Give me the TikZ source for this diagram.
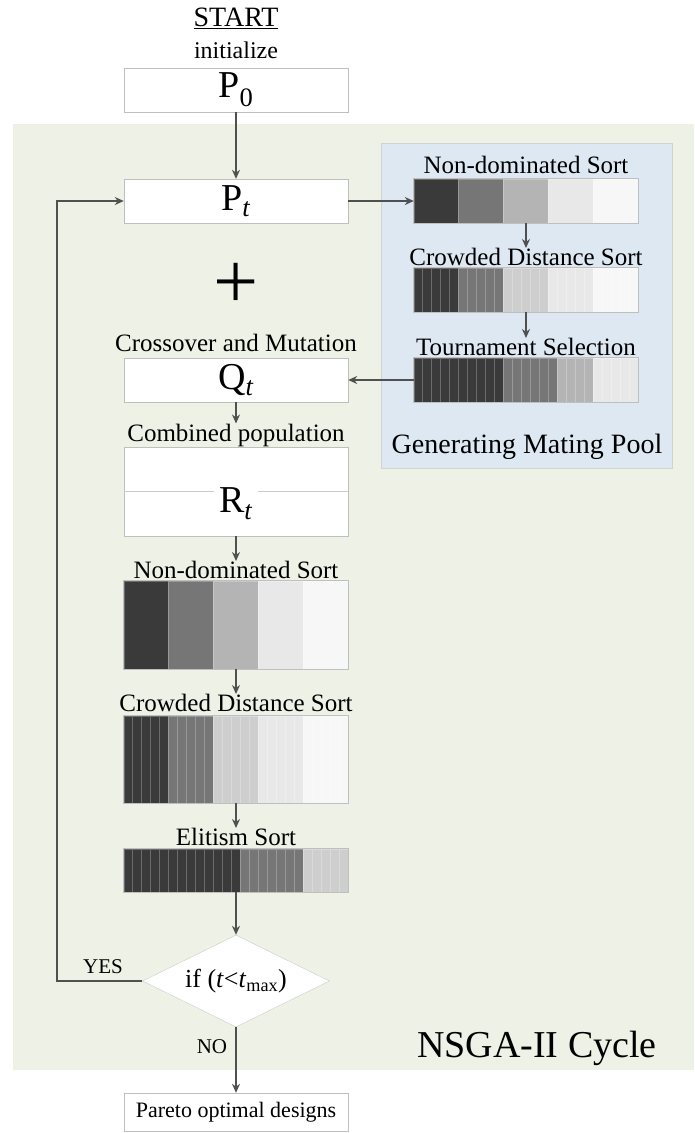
\documentclass[tikz,border=0pt]{standalone}
\usepackage{fontspec}
\setmainfont{Liberation Serif}
\usetikzlibrary{shapes.geometric, arrows.meta}

% Colours of the panels and of the fronts
\definecolor{cycleback}{RGB}{238,241,230}
\definecolor{poolback}{RGB}{222,232,242}
\definecolor{linkgray}{RGB}{80,80,80}
\definecolor{frontA}{RGB}{58,58,58}
\definecolor{frontB}{RGB}{118,118,118}
\definecolor{frontC}{RGB}{180,180,180}
\definecolor{frontCc}{RGB}{206,206,206}
\definecolor{frontD}{RGB}{232,232,232}
\definecolor{frontE}{RGB}{247,247,247}

\newcommand{\fsz}[1]{\fontsize{#1}{#1}\selectfont}

\tikzset{
  box/.style={draw=gray!50, fill=white, minimum width=224pt, minimum height=44pt, inner sep=0pt},
  bar/.style={minimum width=224pt, inner sep=0pt},
  title/.style={inner sep=0pt, font=\fsz{25}},
  link/.style={->, draw=linkgray, line width=1.6pt},
}

% Strip bar: \stripbar{node}{strip width}{colour/first/last,...}
\newcommand{\stripbar}[3]{%
  \foreach \col/\a/\b in {#3} {
    \foreach \i in {\a,...,\b}
      \filldraw[fill=\col, draw=\col!75!white, line width=0.6pt]
        ([xshift=\i*#2pt]#1.north west) rectangle ([xshift=(\i+1)*#2pt]#1.south west);
  }
  \draw[gray!50, line width=0.8pt] (#1.north west) rectangle (#1.south east);
}

\begin{document}
\begin{tikzpicture}[x=1pt, y=-1pt, >={Stealth[length=9pt, width=8pt]}]
    \useasboundingbox (0,0) rectangle (694,1133);

    % 1. Panels
    \fill[cycleback] (13,124) rectangle (694,1070);
    \filldraw[fill=poolback, draw=gray!35] (381,143) rectangle (672,468);

    % 2. Main column
    \node[font=\fsz{28}, inner sep=0pt] (start) at (236,18) {\underline{START}};
    \node[font=\fsz{24}, inner sep=0pt] (init) at (236,50) {initialize};
    \node[box, font=\fsz{38}] (p0) at (236,90) {P\textsubscript{0}};
    \node[box, font=\fsz{38}] (pt) at (236,201) {P\textsubscript{\textit{t}}};
    \node[font=\fsz{80}, inner sep=0pt] (plus) at (236,286) {+};

    \node[title] (crosslbl) at (236,343) {Crossover and Mutation};
    \node[box, font=\fsz{38}] (qt) at (236,380) {Q\textsubscript{\textit{t}}};

    \node[title] (comblbl) at (236,435) {Combined population};
    \node[box, minimum height=89pt] (rt) at (236,491.5) {};
    \draw[gray!40, line width=0.8pt] (rt.west) -- (rt.east);
    \node[font=\fsz{38}, fill=white, inner xsep=5pt, inner ysep=0pt] (rtname)
        at ([yshift=-12pt]rt.center) {R\textsubscript{\textit{t}}};

    \node[title] (ndslbl) at (236,570) {Non-dominated Sort};
    \node[bar, minimum height=88pt] (ndsbar) at (236,625) {};
    \stripbar{ndsbar}{44.8}{frontA/0/0, frontB/1/1, frontC/2/2, frontD/3/3, frontE/4/4}

    \node[title] (cdslbl) at (236,703) {Crowded Distance Sort};
    \node[bar, minimum height=87pt] (cdsbar) at (236,759.5) {};
    \stripbar{cdsbar}{8.96}{frontA/0/4, frontB/5/9, frontCc/10/14, frontD/15/19, frontE/20/24}

    \node[title] (elitelbl) at (236,837) {Elitism Sort};
    \node[bar, minimum height=43pt] (elitebar) at (236,870.5) {};
    \stripbar{elitebar}{8.96}{frontA/0/12, frontB/13/19, frontCc/20/24}

    \node[diamond, draw=gray!40, fill=white, aspect=2, minimum width=187pt,
        minimum height=92pt, inner sep=0pt, font=\fsz{26}] (cond) at (236,981)
        {if (\textit{t}<\textit{t}\textsubscript{max})};
    \node[box, minimum height=38pt, font=\fsz{22}] (pareto) at (236,1112) {Pareto optimal designs};

    % 3. Mating pool
    \node[title] (mndslbl) at (526,165) {Non-dominated Sort};
    \node[bar, minimum height=44pt] (mndsbar) at (526,201) {};
    \stripbar{mndsbar}{44.8}{frontA/0/0, frontB/1/1, frontC/2/2, frontD/3/3, frontE/4/4}

    \node[title] (mcdslbl) at (526,257) {Crowded Distance Sort};
    \node[bar, minimum height=44pt] (mcdsbar) at (526,290) {};
    \stripbar{mcdsbar}{8.96}{frontA/0/4, frontB/5/9, frontCc/10/14, frontD/15/19, frontE/20/24}

    \node[title] (tsellbl) at (526,347) {Tournament Selection};
    \node[bar, minimum height=44pt] (tselbar) at (526,380) {};
    \stripbar{tselbar}{8.96}{frontA/0/9, frontB/10/15, frontC/16/19, frontD/20/24}

    \node[font=\fsz{28}, inner sep=0pt] (poollbl) at (527,447) {Generating Mating Pool};
    \node[font=\fsz{38}, inner sep=0pt] (cyclelbl) at (537,1048) {NSGA-II Cycle};

    % 4. Connectors
    \draw[link] (p0.south) -- (pt.north);
    \draw[link] (pt.east) -- (mndsbar.west);
    \draw[link] (mndsbar.south) -- (mcdslbl.north);
    \draw[link] (mcdsbar.south) -- (tsellbl.north);
    \draw[link] (tselbar.west) -- (qt.east);
    \draw[link] (qt.south) -- (comblbl.north);
    \draw[link] (rt.south) -- (ndslbl.north);
    \draw[link] (ndsbar.south) -- (cdslbl.north);
    \draw[link] (cdsbar.south) -- (elitelbl.north);
    \draw[link] (elitebar.south) -- (cond.north);

    \coordinate (back) at (57,981);
    \draw[link] (cond.west) -- (back) |- (pt.west);
    \node[font=\fsz{21}, inner sep=0pt] (yes) at (103,967) {YES};

    \draw[link] (cond.south) -- (pareto.north);
    \node[font=\fsz{21}, inner sep=0pt] (no) at (212,1047) {NO};

\end{tikzpicture}
\end{document}
